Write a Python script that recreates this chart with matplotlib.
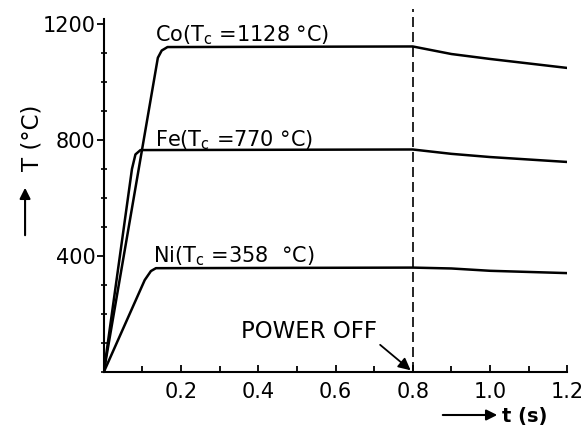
import matplotlib
matplotlib.use("Agg")
import matplotlib.pyplot as plt
from matplotlib.ticker import MultipleLocator, FixedLocator

# heating curves (time in s, temperature in degC)
t_co = [0.0, 0.14, 0.150, 0.165, 0.8, 0.9, 1.0, 1.2]
T_co = [0, 1083, 1108, 1120, 1122, 1096, 1079, 1048]

t_fe = [0.0, 0.073, 0.082, 0.095, 0.8, 0.9, 1.0, 1.2]
T_fe = [0, 700, 750, 765, 767, 752, 741, 724]

t_ni = [0.0, 0.106, 0.122, 0.135, 0.8, 0.9, 1.0, 1.2]
T_ni = [0, 317, 348, 358, 360, 357, 349, 341]

labels = ["Co(T$_\\mathregular{c}$ =1128 °C)",
          "Fe(T$_\\mathregular{c}$ =770 °C)",
          "Ni(T$_\\mathregular{c}$ =358  °C)"]
label_pos = [(0.132, 1138), (0.132, 776), (0.128, 379)]

t_off = 0.8

plt.rcParams['font.family'] = 'DejaVu Sans'
fig = plt.figure(figsize=(5.83, 4.44), dpi=100)
ax = fig.add_axes([0.178, 0.162, 0.795, 0.817])

for t, T in [(t_co, T_co), (t_fe, T_fe), (t_ni, T_ni)]:
    ax.plot(t, T, color='black', lw=1.8, solid_joinstyle='round')

for txt, (x, y) in zip(labels, label_pos):
    ax.text(x, y, txt, fontsize=15, ha='left', va='baseline')

# power switched off
ax.axvline(t_off, color='black', lw=1.2, ls=(0, (6, 3)))
ax.text(0.355, 140, "POWER OFF", fontsize=16.5, ha='left', va='center')
ax.annotate("", xy=(t_off, 0), xytext=(0.71, 100),
            arrowprops=dict(arrowstyle='-|>', color='black', lw=1.3,
                            mutation_scale=18))

ax.set_xlim(0, 1.2)
ax.set_ylim(0, 1250)
ax.spines['top'].set_visible(False)
ax.spines['right'].set_visible(False)
ax.spines['left'].set_bounds(0, 1215)
for s in ['left', 'bottom']:
    ax.spines[s].set_linewidth(1.5)

ax.xaxis.set_major_locator(FixedLocator([0.2, 0.4, 0.6, 0.8, 1.0, 1.2]))
ax.xaxis.set_minor_locator(MultipleLocator(0.1))
ax.yaxis.set_major_locator(FixedLocator([400, 800, 1200]))
ax.yaxis.set_minor_locator(MultipleLocator(100))
ax.tick_params(axis='x', which='both', direction='in', labelsize=15, pad=7)
ax.tick_params(axis='x', which='major', length=5, width=1.3)
ax.tick_params(axis='x', which='minor', length=4, width=1.3)
ax.tick_params(axis='y', which='major', direction='out', length=5, width=1.3,
               labelsize=15, pad=1)
ax.tick_params(axis='y', which='minor', direction='inout', length=5, width=1.2)

# axis captions with arrows
fig.text(0.055, 0.69, "T (°C)", rotation=90, fontsize=16.5, ha='center', va='center')
fig.add_artist(matplotlib.patches.FancyArrowPatch(
    (0.043, 1 - 238 / 444), (0.043, 1 - 185 / 444), transform=fig.transFigure,
    arrowstyle='-|>', mutation_scale=16, lw=1.5, color='black'))
fig.add_artist(matplotlib.patches.FancyArrowPatch(
    (440 / 583, 1 - 415 / 444), (500 / 583, 1 - 415 / 444), transform=fig.transFigure,
    arrowstyle='-|>', mutation_scale=16, lw=1.5, color='black'))
fig.text(502 / 583, 1 - 416 / 444, "t (s)", fontsize=14, ha='left', va='center',
         fontweight='bold')

fig.savefig("out.png", dpi=100)
